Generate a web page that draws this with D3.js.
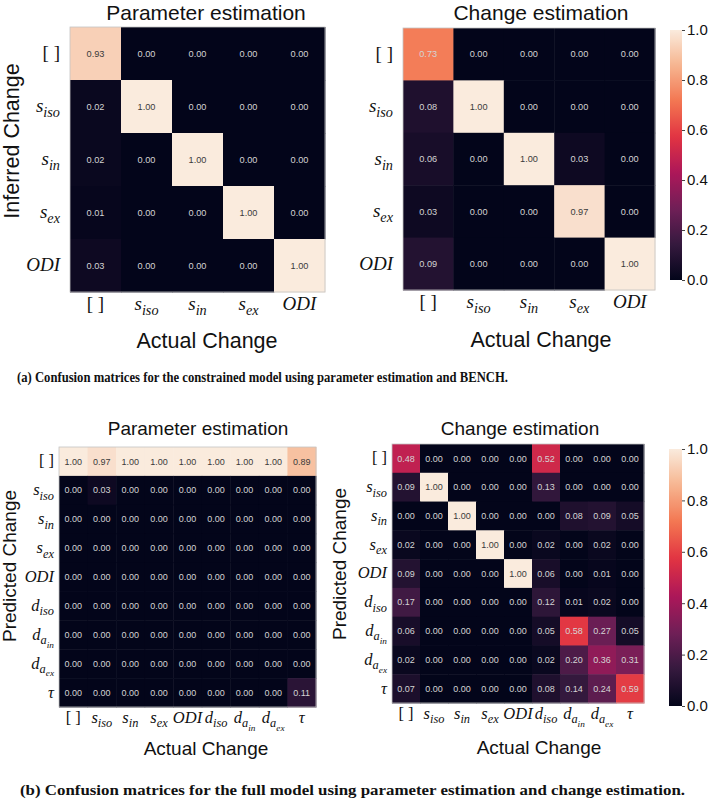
<!DOCTYPE html>
<html>
<head>
<meta charset="utf-8">
<script src="https://cdn.jsdelivr.net/npm/d3@7"></script>
<style>
  body { margin: 0; background: #fff; }
  svg { display: block; }
</style>
</head>
<body>
<svg id="fig" width="712" height="799"></svg>
<script>
// category labels ("_" marks a subscript level)
const labels5 = ["[ ]", "s_iso", "s_in", "s_ex", "ODI"];
const labels9 = ["[ ]", "s_iso", "s_in", "s_ex", "ODI", "d_iso", "d_a_in", "d_a_ex", "τ"];

// rows = inferred / predicted, cols = actual
const paramConstrained = [
  [0.93, 0.00, 0.00, 0.00, 0.00],
  [0.02, 1.00, 0.00, 0.00, 0.00],
  [0.02, 0.00, 1.00, 0.00, 0.00],
  [0.01, 0.00, 0.00, 1.00, 0.00],
  [0.03, 0.00, 0.00, 0.00, 1.00]
];
const changeConstrained = [
  [0.73, 0.00, 0.00, 0.00, 0.00],
  [0.08, 1.00, 0.00, 0.00, 0.00],
  [0.06, 0.00, 1.00, 0.03, 0.00],
  [0.03, 0.00, 0.00, 0.97, 0.00],
  [0.09, 0.00, 0.00, 0.00, 1.00]
];
const paramFull = [
  [1.00, 0.97, 1.00, 1.00, 1.00, 1.00, 1.00, 1.00, 0.89],
  [0.00, 0.03, 0.00, 0.00, 0.00, 0.00, 0.00, 0.00, 0.00],
  [0.00, 0.00, 0.00, 0.00, 0.00, 0.00, 0.00, 0.00, 0.00],
  [0.00, 0.00, 0.00, 0.00, 0.00, 0.00, 0.00, 0.00, 0.00],
  [0.00, 0.00, 0.00, 0.00, 0.00, 0.00, 0.00, 0.00, 0.00],
  [0.00, 0.00, 0.00, 0.00, 0.00, 0.00, 0.00, 0.00, 0.00],
  [0.00, 0.00, 0.00, 0.00, 0.00, 0.00, 0.00, 0.00, 0.00],
  [0.00, 0.00, 0.00, 0.00, 0.00, 0.00, 0.00, 0.00, 0.00],
  [0.00, 0.00, 0.00, 0.00, 0.00, 0.00, 0.00, 0.00, 0.11]
];
const changeFull = [
  [0.48, 0.00, 0.00, 0.00, 0.00, 0.52, 0.00, 0.00, 0.00],
  [0.09, 1.00, 0.00, 0.00, 0.00, 0.13, 0.00, 0.00, 0.00],
  [0.00, 0.00, 1.00, 0.00, 0.00, 0.00, 0.08, 0.09, 0.05],
  [0.02, 0.00, 0.00, 1.00, 0.00, 0.02, 0.00, 0.02, 0.00],
  [0.09, 0.00, 0.00, 0.00, 1.00, 0.06, 0.00, 0.01, 0.00],
  [0.17, 0.00, 0.00, 0.00, 0.00, 0.12, 0.01, 0.02, 0.00],
  [0.06, 0.00, 0.00, 0.00, 0.00, 0.05, 0.58, 0.27, 0.05],
  [0.02, 0.00, 0.00, 0.00, 0.00, 0.02, 0.20, 0.36, 0.31],
  [0.07, 0.00, 0.00, 0.00, 0.00, 0.08, 0.14, 0.24, 0.59]
];
const colorbarTicks = [0.0, 0.2, 0.4, 0.6, 0.8, 1.0];

// seaborn "rocket" approximation
const rocketStops = [0, 1/7, 2/7, 3/7, 4/7, 5/7, 6/7, 1];
const rocketColors = ["#03051a", "#35193e", "#701f57", "#ad1759", "#e13342", "#f37651", "#f6b48f", "#faebdd"];
const color = d3.scaleLinear().domain(rocketStops).range(rocketColors).clamp(true);

const sans = "'Liberation Sans', Arial, sans-serif";
const serif = "'Liberation Serif', 'Times New Roman', serif";

const svg = d3.select("#fig");

function luminance(c) {
  const rgb = d3.rgb(c);
  const f = v => { v /= 255; return v <= 0.03928 ? v / 12.92 : Math.pow((v + 0.055) / 1.055, 2.4); };
  return 0.2126 * f(rgb.r) + 0.7152 * f(rgb.g) + 0.0722 * f(rgb.b);
}

// draw a math-ish label like s_iso or d_a_in with tspans
function mathLabel(text, label, size) {
  const parts = label.split("_");
  const upright = label === "[ ]";
  text.attr("font-family", serif)
    .attr("font-style", upright ? "normal" : "italic")
    .attr("font-size", size)
    .attr("fill", "#111");
  text.append("tspan").text(parts[0]);
  let s = size;
  parts.slice(1).forEach(p => {
    const ns = s * 0.75;
    text.append("tspan")
      .attr("font-size", ns)
      .attr("dy", s * 0.27)
      .text(p);
    s = ns;
  });
}

function heatmap(cfg) {
  const n = cfg.labels.length;
  const g = svg.append("g");
  const x = d3.scaleBand().domain(d3.range(n)).range([cfg.x0, cfg.x1]);
  const y = d3.scaleBand().domain(d3.range(n)).range([cfg.y0, cfg.y1]);

  const cells = [];
  cfg.data.forEach((row, i) => row.forEach((v, j) => cells.push({ i, j, v })));

  g.selectAll("rect.cell")
    .data(cells)
    .enter().append("rect")
    .attr("class", "cell")
    .attr("x", d => x(d.j))
    .attr("y", d => y(d.i))
    .attr("width", x.bandwidth() + 0.5)
    .attr("height", y.bandwidth() + 0.5)
    .attr("fill", d => color(d.v));

  g.append("rect")
    .attr("x", cfg.x0).attr("y", cfg.y0)
    .attr("width", cfg.x1 - cfg.x0).attr("height", cfg.y1 - cfg.y0)
    .attr("fill", "none").attr("stroke", "#c4c4c4").attr("stroke-width", 0.8);

  g.selectAll("text.ann")
    .data(cells)
    .enter().append("text")
    .attr("class", "ann")
    .attr("x", d => x(d.j) + x.bandwidth() / 2)
    .attr("y", d => y(d.i) + y.bandwidth() / 2)
    .attr("dy", "0.35em")
    .attr("text-anchor", "middle")
    .attr("font-family", sans)
    .attr("font-size", cfg.annSize)
    .attr("fill", d => luminance(color(d.v)) > 0.408 ? "#3a3a3a" : "#d4d4d4")
    .text(d => d.v.toFixed(2));

  // y tick labels
  cfg.labels.forEach((lab, i) => {
    const t = g.append("text")
      .attr("x", cfg.x0 - cfg.yPad)
      .attr("y", y(i) + y.bandwidth() / 2)
      .attr("dy", "0.3em")
      .attr("text-anchor", "end");
    mathLabel(t, lab, cfg.tickSize);
  });
  // x tick labels
  cfg.labels.forEach((lab, j) => {
    const t = g.append("text")
      .attr("x", x(j) + x.bandwidth() / 2)
      .attr("y", cfg.y1 + cfg.xPad)
      .attr("text-anchor", "middle");
    mathLabel(t, lab, cfg.tickSize);
  });

  g.append("text")
    .attr("x", cfg.titleX).attr("y", cfg.titleY)
    .attr("text-anchor", "middle")
    .attr("font-family", sans).attr("font-size", cfg.titleSize)
    .attr("fill", "#111")
    .text(cfg.title);

  g.append("text")
    .attr("x", cfg.xlabX).attr("y", cfg.xlabY)
    .attr("text-anchor", "middle")
    .attr("font-family", sans).attr("font-size", cfg.labSize)
    .attr("fill", "#111")
    .text("Actual Change");

  if (cfg.ylab) {
    g.append("text")
      .attr("transform", `translate(${cfg.ylabX},${cfg.ylabY}) rotate(-90)`)
      .attr("text-anchor", "middle")
      .attr("font-family", sans).attr("font-size", cfg.labSize)
      .attr("fill", "#111")
      .text(cfg.ylab);
  }
}

const defs = svg.append("defs");
const grad = defs.append("linearGradient")
  .attr("id", "rocket").attr("x1", 0).attr("y1", 1).attr("x2", 0).attr("y2", 0);
grad.selectAll("stop")
  .data(d3.range(0, 1.0001, 0.02))
  .enter().append("stop")
  .attr("offset", d => d)
  .attr("stop-color", d => color(d));

function colorbar(x, y0, y1, w, size) {
  const g = svg.append("g");
  const s = d3.scaleLinear().domain([0, 1]).range([y1, y0]);
  g.append("rect")
    .attr("x", x).attr("y", y0)
    .attr("width", w).attr("height", y1 - y0)
    .attr("fill", "url(#rocket)");
  const axis = d3.axisRight(s)
    .tickValues(colorbarTicks)
    .tickSize(3)
    .tickPadding(2)
    .tickFormat(d3.format(".1f"));
  const ax = g.append("g")
    .attr("transform", `translate(${x + w},0)`)
    .call(axis);
  ax.select(".domain").remove();
  ax.selectAll("line").attr("stroke", "#444");
  ax.selectAll("text")
    .attr("font-family", sans)
    .attr("font-size", size)
    .attr("fill", "#111");
}

// (a) constrained model
heatmap({
  data: paramConstrained, labels: labels5,
  x0: 70, x1: 325, y0: 27, y1: 292,
  annSize: 9.2, tickSize: 19, yPad: 10, xPad: 18,
  title: "Parameter estimation", titleX: 206, titleY: 19.5, titleSize: 21,
  xlabX: 207, xlabY: 348, labSize: 21.5,
  ylab: "Inferred Change", ylabX: 19, ylabY: 141
});
heatmap({
  data: changeConstrained, labels: labels5,
  x0: 403, x1: 655, y0: 28, y1: 290,
  annSize: 9.2, tickSize: 19, yPad: 10, xPad: 18,
  title: "Change estimation", titleX: 541, titleY: 19.5, titleSize: 21,
  xlabX: 541, xlabY: 347, labSize: 21.5
});
colorbar(670, 30, 280, 12, 15);

// (b) full model
heatmap({
  data: paramFull, labels: labels9,
  x0: 59, x1: 316, y0: 447, y1: 707,
  annSize: 9, tickSize: 16.5, yPad: 5, xPad: 16,
  title: "Parameter estimation", titleX: 198, titleY: 435, titleSize: 19,
  xlabX: 206, xlabY: 755, labSize: 19,
  ylab: "Predicted Change", ylabX: 16, ylabY: 566
});
heatmap({
  data: changeFull, labels: labels9,
  x0: 392, x1: 644, y0: 444, y1: 703,
  annSize: 9, tickSize: 16.5, yPad: 5, xPad: 16,
  title: "Change estimation", titleX: 520, titleY: 435, titleSize: 19,
  xlabX: 539, xlabY: 754, labSize: 19,
  ylab: "Predicted Change", ylabX: 346, ylabY: 564
});
colorbar(669, 449, 706, 13, 15);

// captions
svg.append("text")
  .attr("x", 17).attr("y", 382)
  .attr("font-family", serif).attr("font-weight", "bold").attr("font-size", 14)
  .attr("textLength", 491).attr("lengthAdjust", "spacingAndGlyphs")
  .attr("fill", "#111")
  .text("(a) Confusion matrices for the constrained model using parameter estimation and BENCH.");
svg.append("text")
  .attr("x", 20).attr("y", 795)
  .attr("font-family", serif).attr("font-weight", "bold").attr("font-size", 14)
  .attr("textLength", 665).attr("lengthAdjust", "spacingAndGlyphs")
  .attr("fill", "#111")
  .text("(b) Confusion matrices for the full model using parameter estimation and change estimation.");
</script>
</body>
</html>
